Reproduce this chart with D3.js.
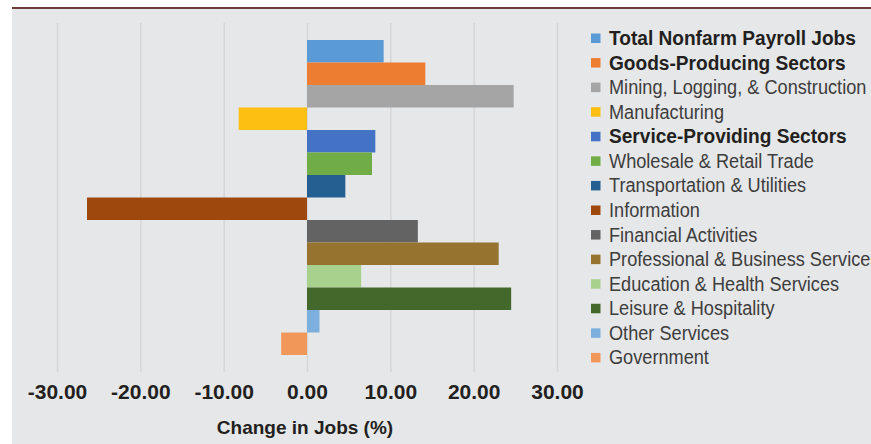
<!DOCTYPE html>
<html>
<head>
<meta charset="utf-8">
<script src="https://cdn.jsdelivr.net/npm/d3@7"></script>
<style>
  body { margin: 0; background: #fff; }
  svg text { font-family: "Liberation Sans", Arial, sans-serif; }
  .grid line { stroke: #d6d6d6; stroke-width: 1.5; }
  .grid .domain { display: none; }
</style>
</head>
<body>
<div id="chart"></div>
<script>
const sectors = [
  "Total Nonfarm Payroll Jobs",
  "Goods-Producing Sectors",
  "Mining, Logging, & Construction",
  "Manufacturing",
  "Service-Providing Sectors",
  "Wholesale & Retail Trade",
  "Transportation & Utilities",
  "Information",
  "Financial Activities",
  "Professional & Business Services",
  "Education & Health Services",
  "Leisure & Hospitality",
  "Other Services",
  "Government"
];
const changes = [9.2, 14.2, 24.8, -8.2, 8.2, 7.8, 4.6, -26.4, 13.3, 23.0, 6.5, 24.5, 1.5, -3.1];
const boldSectors = ["Total Nonfarm Payroll Jobs", "Goods-Producing Sectors", "Service-Providing Sectors"];
const xTicks = [-30, -20, -10, 0, 10, 20, 30];
const colors = ["#5b9bd5", "#ed7d31", "#a5a5a5", "#fdbf12", "#4472c4", "#70ad47", "#255e91",
                "#9e480e", "#636363", "#967430", "#a9d18e", "#43682b", "#7cafdd", "#f1975a"];

const W = 871, H = 444;
const plot = {left: 57, right: 557, top: 23, bottom: 372};

const svg = d3.select("#chart").append("svg")
    .attr("width", W)
    .attr("height", H);

// panel background and top rule
svg.append("rect")
    .attr("x", 12).attr("y", 9)
    .attr("width", W - 12).attr("height", H - 9)
    .attr("fill", "#e6e7e8");
svg.append("line")
    .attr("x1", 12).attr("x2", W)
    .attr("y1", 8).attr("y2", 8)
    .attr("stroke", "#6e3a3b")
    .attr("stroke-width", 2);

const x = d3.scaleLinear()
    .domain([-30, 30])
    .range([plot.left, plot.right]);

const y = d3.scaleBand()
    .domain(sectors)
    .range([40, 355])
    .padding(0);

const color = d3.scaleOrdinal()
    .domain(sectors)
    .range(colors);

const fmt = d3.formatLocale({decimal: ".", thousands: ",", grouping: [3], currency: ["$", ""], minus: "-"}).format(".2f");

const axis = svg.append("g")
    .attr("class", "grid")
    .attr("transform", "translate(0," + plot.bottom + ")")
    .call(d3.axisBottom(x)
        .tickValues(xTicks)
        .tickFormat(fmt)
        .tickSize(-(plot.bottom - plot.top)));

axis.selectAll("text")
    .attr("y", 27)
    .attr("dy", 0)
    .attr("fill", "#231f20")
    .style("font-size", "21px")
    .style("font-weight", "bold");

svg.selectAll("rect.bar")
    .data(sectors)
    .enter().append("rect")
    .attr("class", "bar")
    .attr("x", (d, i) => x(Math.min(0, changes[i])))
    .attr("width", (d, i) => Math.abs(x(changes[i]) - x(0)))
    .attr("y", d => y(d))
    .attr("height", y.bandwidth())
    .attr("fill", d => color(d));

svg.append("text")
    .attr("x", x(0) - 2)
    .attr("y", 434)
    .attr("text-anchor", "middle")
    .attr("fill", "#231f20")
    .style("font-size", "19px")
    .style("font-weight", "bold")
    .text("Change in Jobs (%)");

// legend
const legend = svg.append("g")
    .attr("transform", "translate(591,45)");

const item = legend.selectAll("g")
    .data(sectors)
    .enter().append("g")
    .attr("transform", (d, i) => "translate(0," + (i * 24.57) + ")");

item.append("rect")
    .attr("x", 0)
    .attr("y", -11.5)
    .attr("width", 9.5)
    .attr("height", 9.5)
    .attr("fill", d => color(d));

item.append("text")
    .attr("transform", d => "translate(18,0) scale(" + (boldSectors.includes(d) ? 0.91 : 0.865) + ",1)")
    .attr("fill", d => boldSectors.includes(d) ? "#231f20" : "#3d3d3d")
    .style("font-size", "21px")
    .style("font-weight", d => boldSectors.includes(d) ? "bold" : "normal")
    .text(d => d);
</script>
</body>
</html>
